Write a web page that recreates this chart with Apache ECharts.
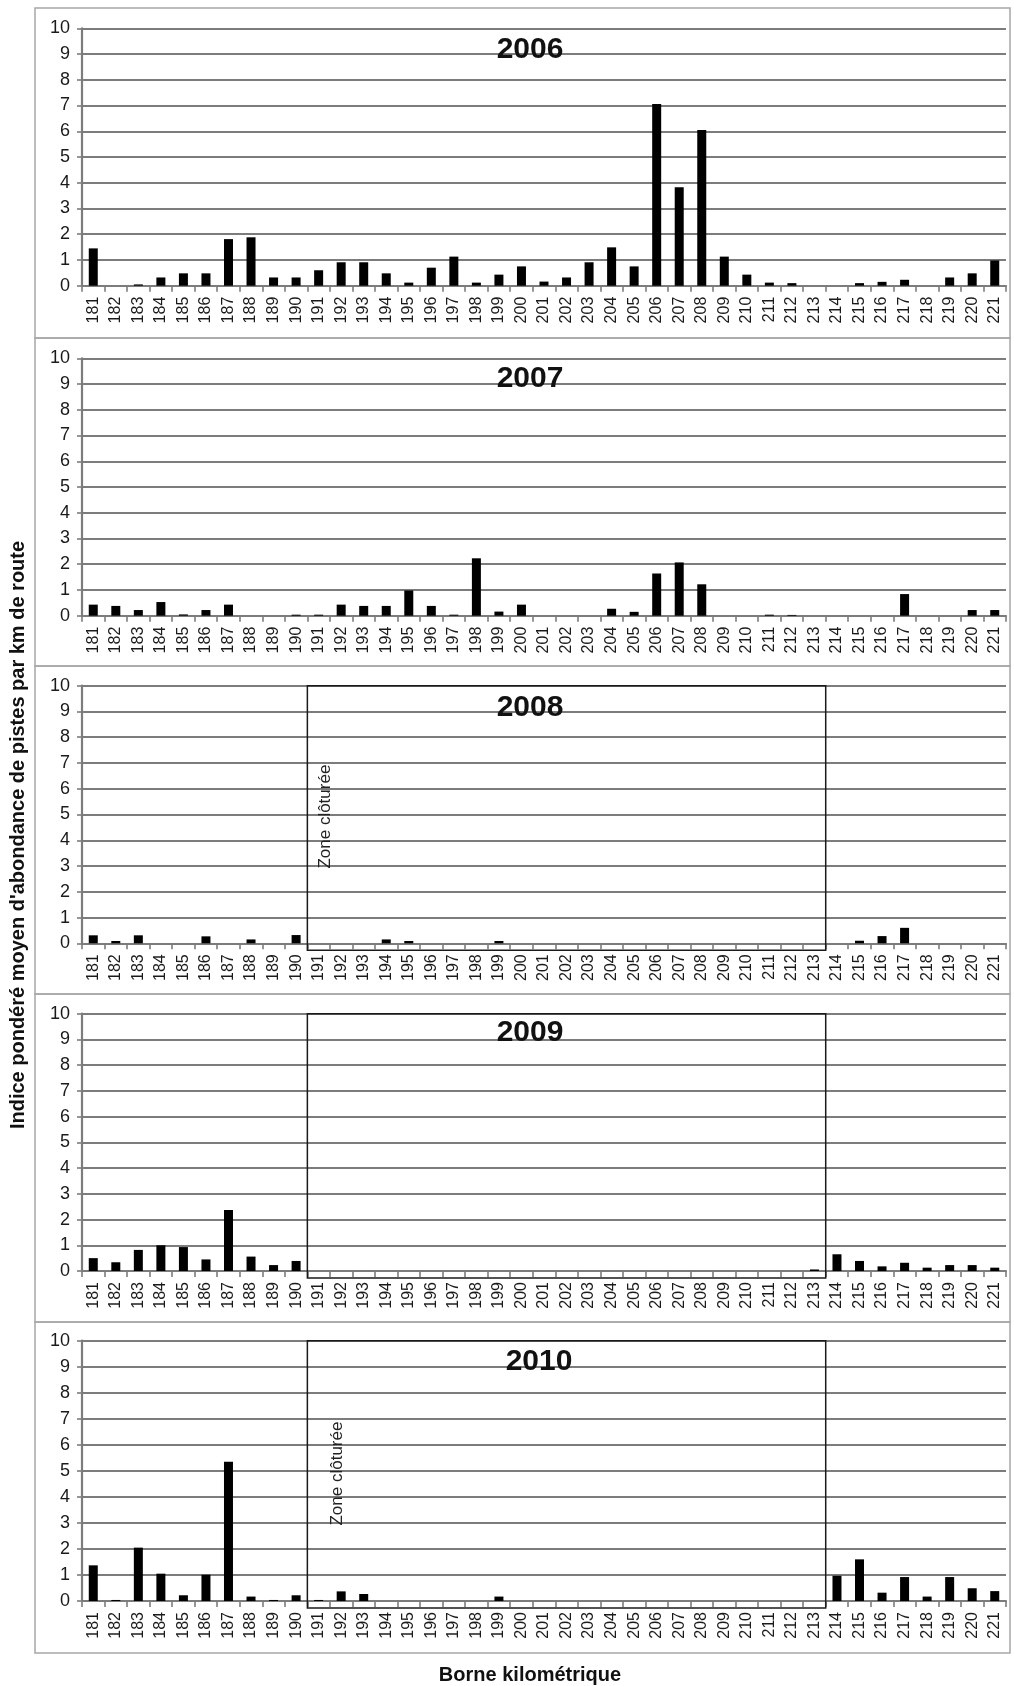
<!DOCTYPE html>
<html><head><meta charset="utf-8">
<script src="https://cdn.jsdelivr.net/npm/echarts@6/dist/echarts.min.js"></script>
<style>html,body{margin:0;padding:0;background:#fff}#c{width:1014px;height:1686px}</style>
</head><body><div id="c"></div>
<script>
// ---- data ----
const categories = ['181','182','183','184','185','186','187','188','189','190',
  '191','192','193','194','195','196','197','198','199','200',
  '201','202','203','204','205','206','207','208','209','210',
  '211','212','213','214','215','216','217','218','219','220','221'];
const years = ['2006','2007','2008','2009','2010'];
const values2006 = [1.45,0,0.05,0.32,0.48,0.48,1.81,1.88,0.32,0.32,
  0.6,0.91,0.91,0.48,0.12,0.7,1.13,0.12,0.43,0.75,
  0.16,0.32,0.91,1.49,0.75,7.06,3.82,6.05,1.13,0.43,
  0.12,0.1,0,0,0.1,0.15,0.23,0,0.32,0.48,0.98];
const values2007 = [0.43,0.38,0.22,0.53,0.05,0.22,0.43,0,0,0.04,
  0.04,0.43,0.38,0.38,0.98,0.38,0.04,2.23,0.16,0.43,
  0,0,0,0.27,0.15,1.64,2.07,1.22,0,0,
  0.04,0.03,0,0,0,0,0.84,0,0,0.22,0.22];
const values2008 = [0.31,0.09,0.31,0,0,0.27,0,0.15,0,0.32,
  0,0,0,0.15,0.09,0,0,0,0.09,0,
  0,0,0,0,0,0,0,0,0,0,
  0,0,0,0,0.1,0.28,0.6,0,0,0,0];
const values2009 = [0.5,0.34,0.82,1.0,0.93,0.45,2.37,0.56,0.23,0.39,
  0,0,0,0,0,0,0,0,0,0,
  0,0,0,0,0,0,0,0,0,0,
  0,0,0.06,0.65,0.39,0.18,0.32,0.13,0.23,0.23,0.13];
const values2010 = [1.37,0.04,2.05,1.05,0.22,1.01,5.35,0.17,0.04,0.22,
  0.04,0.37,0.27,0,0,0,0,0,0.17,0,
  0,0,0,0,0,0,0,0,0,0,
  0,0,0,0.97,1.6,0.32,0.92,0.17,0.92,0.49,0.38];
const yTicks = [0,1,2,3,4,5,6,7,8,9,10];
const fencedFrom = '191';
const fencedTo = '213';
const fencedYears = ['2008','2009','2010'];
const zoneLabelYears = ['2008','2010'];
const zoneLabel = 'Zone clôturée';
const yTitle = "Indice pondéré moyen d'abondance de pistes par km de route";
const xTitle = 'Borne kilométrique';

// ---- layout ----
const seriesValues = [values2006, values2007, values2008, values2009, values2010];
const gridTops = [28.3, 358.3, 685.7, 1013.7, 1340.7];
const gridHeights = [257.4, 257.4, 257.6, 257.3, 260.3];
const panelTops = [8, 338, 666, 994, 1322];
const panelBottom = 1653;
const titleX = [530, 530, 530, 530, 539];
const titleDy = [21, 20, 22, 19.5, 21];
const zoneDx = {'2008': 18, '2010': 30};
const gridColor = '#7c7c7c';
const FONT = 'Liberation Sans, Arial, sans-serif';

const chart = echarts.init(document.getElementById('c'));
const option = {
  animation: false,
  backgroundColor: '#fff',
  grid: gridTops.map((t, i) => ({left: 82, width: 924, top: t, height: gridHeights[i]})),
  xAxis: years.map((y, i) => ({
    type: 'category', gridIndex: i, data: categories, boundaryGap: true,
    axisLine: {lineStyle: {color: gridColor, width: 2.2}},
    axisTick: {show: true, interval: 0, length: 6, lineStyle: {color: gridColor, width: 1.6}},
    axisLabel: {interval: 0, rotate: 90, fontSize: 16, color: '#1a1a1a', fontFamily: FONT, margin: 11}
  })),
  yAxis: years.map((y, i) => ({
    type: 'value', gridIndex: i, min: yTicks[0], max: yTicks[yTicks.length - 1], interval: 1,
    axisLine: {show: true, lineStyle: {color: gridColor, width: 2.2}},
    axisTick: {show: true, length: 5, lineStyle: {color: gridColor, width: 1.6}},
    splitLine: {lineStyle: {color: gridColor, width: 2.2}},
    axisLabel: {fontSize: 18, color: '#1a1a1a', fontFamily: FONT, margin: 12}
  })),
  series: years.map((y, i) => ({
    name: y, type: 'bar', xAxisIndex: i, yAxisIndex: i, data: seriesValues[i],
    barWidth: 9, itemStyle: {color: '#000'}, silent: true
  }))
};
chart.setOption(option);

const graphics = [];
// panel borders
panelTops.forEach((t, i) => {
  const b = i < panelTops.length - 1 ? panelTops[i + 1] : panelBottom;
  graphics.push({type: 'rect', shape: {x: 35, y: t, width: 975, height: b - t},
    style: {fill: null, stroke: '#a6a6a6', lineWidth: 1.5}, silent: true, z: 0});
});
years.forEach((yr, i) => {
  const f = {xAxisIndex: i, yAxisIndex: i};
  // year title
  graphics.push({type: 'text', x: titleX[i], y: gridTops[i] + titleDy[i],
    style: {text: yr, fontSize: 30, fontWeight: 'bold', fontFamily: FONT, fill: '#111',
      align: 'center', verticalAlign: 'middle'}, z: 10});
  if (fencedYears.includes(yr)) {
    const p1 = chart.convertToPixel(f, [fencedFrom, 0]);
    const p2 = chart.convertToPixel(f, [categories[categories.indexOf(fencedFrom) + 1], 0]);
    const pEnd = chart.convertToPixel(f, [fencedTo, 0]);
    const pTop = chart.convertToPixel(f, [fencedFrom, yTicks[yTicks.length - 1]]);
    const band = p2[0] - p1[0];
    const x1 = p1[0] - band / 2, x2 = pEnd[0] + band / 2;
    graphics.push({type: 'rect', shape: {x: x1, y: pTop[1], width: x2 - x1, height: p1[1] - pTop[1] + 7},
      style: {fill: null, stroke: '#1a1a1a', lineWidth: 1.5}, silent: true, z: 20});
    if (zoneLabelYears.includes(yr)) {
      const pl = chart.convertToPixel(f, [fencedFrom, 2.9]);
      graphics.push({type: 'text', x: x1 + zoneDx[yr], y: pl[1], rotation: Math.PI / 2,
        style: {text: zoneLabel, fontSize: 17, fontFamily: FONT, fill: '#222',
          align: 'left', verticalAlign: 'middle'}, z: 20});
    }
  }
});
graphics.push({type: 'text', x: 18, y: 835, rotation: Math.PI / 2,
  style: {text: yTitle, fontSize: 20, fontWeight: 'bold', fontFamily: FONT, fill: '#111',
    align: 'center', verticalAlign: 'middle'}});
graphics.push({type: 'text', x: 530, y: 1675,
  style: {text: xTitle, fontSize: 20, fontWeight: 'bold', fontFamily: FONT, fill: '#111',
    align: 'center', verticalAlign: 'middle'}});
chart.setOption({graphic: graphics});
</script></body></html>
